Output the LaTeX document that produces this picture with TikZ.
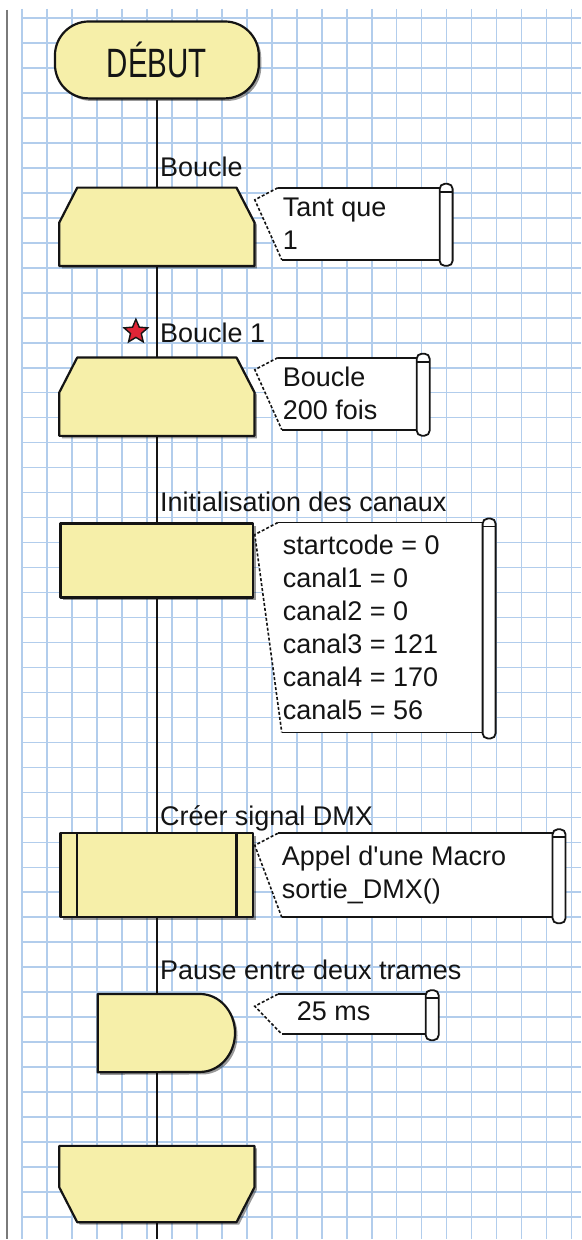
\documentclass[tikz,border=0pt]{standalone}
\usepackage{fontspec}
\setmainfont{Liberation Sans}
\usetikzlibrary{shapes.geometric, shadows}
\definecolor{chartink}{HTML}{141414}
\definecolor{chartgrid}{HTML}{B2CDEC}
\definecolor{chartfill}{HTML}{F6EFA9}
\definecolor{chartframe}{HTML}{7A7A7A}
\definecolor{chartstar}{HTML}{E02436}

% comment flag beside a block: #1 top, #2 bottom, #3 right edge (scroll)
\newcommand{\noteflag}[3]{%
  \fill[white] (278,#1) -- (#3,#1) -- (#3,#2) -- (282,#2) -- (255,#1+12) -- cycle;
  \draw[noteedge] (278,#1) -- (#3,#1) (282,#2) -- (#3,#2);
  \draw[notetip] (278,#1) -- (255,#1+12) -- (282,#2);
  \draw[noteedge, fill=white, rounded corners=5pt] (#3,#1-4) rectangle (#3+13,#2+6);
  \draw[noteedge] (#3,#1+4) -- (#3+13,#1+4);
}

\begin{document}
\begin{tikzpicture}[
  x=1pt,
  y=-1pt,
  every node/.style={font=\fontsize{27}{33}\selectfont, chartink},
  flow/.style={chartink, line width=2pt},
  gridline/.style={chartgrid, line width=1.6pt},
  block/.style={minimum width=195pt, inner sep=0pt},
  blockline/.style={draw=chartink, fill=chartfill, line width=2.2pt, line join=round,
                    drop shadow={shadow xshift=2.5pt, shadow yshift=-2.5pt,
                                 opacity=0.4, fill=black}},
  blockedge/.style={chartink, line width=2.2pt},
  steplabel/.style={anchor=base west, inner sep=0pt},
  note/.style={anchor=west, inner sep=0pt, align=left},
  noteedge/.style={chartink, line width=1.8pt},
  notetip/.style={chartink, line width=1.6pt, dash pattern=on 3pt off 2pt}
]
  % ---- sheet, frame line and squared paper ----
  \fill[white] (0,0) rectangle (581,1240);
  \draw[chartframe, line width=2pt] (7,10) -- (7,1240);
  \foreach \gx in {22,47,...,572}
    \draw[gridline] (\gx,9) -- (\gx,1240);
  \foreach \gy in {18,43,...,1218}
    \draw[gridline] (21,\gy) -- (581,\gy);

  % ---- blocks of the flowchart ----
  \node[blockline, minimum width=204pt, minimum height=77pt, rounded corners=34pt,
        inner sep=0pt] (debut) at (157,60)
        {\fontsize{41}{45}\selectfont\scalebox{0.72}[1]{DÉBUT}};
  \node[block, minimum height=78pt] (loop1) at (157,227) {};
  \node[block, minimum height=78pt] (loop2) at (157,397) {};
  \node[block, blockline, minimum width=193pt, minimum height=74pt] (init) at (157,561) {};
  \node[block, blockline, minimum width=193pt, minimum height=84pt] (dmx) at (157,876) {};
  \node[block, minimum width=137pt, minimum height=78pt] (pause) at (166.5,1034) {};
  \node[block, minimum height=76pt] (loopend) at (157,1185) {};
  \coordinate (tail) at (157,1240);

  % ---- the flow line ----
  \draw[flow] (debut) -- (loop1);
  \draw[flow] (loop1) -- (loop2);
  \draw[flow] (loop2) -- (init);
  \draw[flow] (init) -- (dmx);
  \draw[flow] (dmx) -- (dmx |- pause.north);
  \draw[flow] (dmx |- pause.south) -- (loopend);
  \draw[flow] (loopend) -- (tail);

  % ---- outlines of the shaped blocks ----
  \foreach \lp in {loop1,loop2}
    \draw[blockline] ([xshift=18pt]\lp.north west) -- ([xshift=-18pt]\lp.north east)
      -- ([yshift=-35pt]\lp.north east) -- (\lp.south east) -- (\lp.south west)
      -- ([yshift=-35pt]\lp.north west) -- cycle;
  \draw[blockline] (loopend.north west) -- (loopend.north east)
    -- ([yshift=35pt]loopend.south east) -- ([xshift=-18pt]loopend.south east)
    -- ([xshift=18pt]loopend.south west) -- ([yshift=35pt]loopend.south west) -- cycle;
  \draw[blockline] (pause.north west) -- ([xshift=-35pt]pause.north east)
    arc[start angle=90, end angle=-90, x radius=35pt, y radius=39pt]
    -- (pause.south west) -- cycle;
  \draw[blockedge] ([xshift=18pt]dmx.north west) -- ([xshift=18pt]dmx.south west);
  \draw[blockedge] ([xshift=-18pt]dmx.north east) -- ([xshift=-18pt]dmx.south east);

  % ---- block titles ----
  \node[steplabel] (lab1) at (160,177) {Boucle};
  \node[steplabel] (lab2) at (160,343) {Boucle 1};
  \node[steplabel] (lab3) at (160,512) {Initialisation des canaux};
  \node[steplabel] (lab4) at (160,826) {Créer signal DMX};
  \node[steplabel] (lab5) at (160,980) {Pause entre deux trames};
  \node[star, star points=5, star point ratio=2.2, draw=chartink, fill=chartstar,
        line width=1.4pt, minimum size=25pt, inner sep=0pt] (mark) at (136,332) {};

  % ---- comments ----
  \noteflag{188}{260}{440}
  \node[note] (note1) at (283,224) {Tant que\\1};
  \noteflag{358}{430}{417}
  \node[note] (note2) at (283,394) {Boucle\\200 fois};
  \noteflag{523}{733}{483}
  \node[note] (note3) at (283,628) {startcode = 0\\canal1 = 0\\canal2 = 0\\canal3 = 121\\canal4 = 170\\canal5 = 56};
  \noteflag{834}{918}{553}
  \node[note] (note4) at (282,876) {Appel d\textquotesingle une Macro\\sortie\_DMX()};
  \noteflag{995}{1035}{426}
  \node[note] (note5) at (297,1012) {25 ms};
\end{tikzpicture}
\end{document}
